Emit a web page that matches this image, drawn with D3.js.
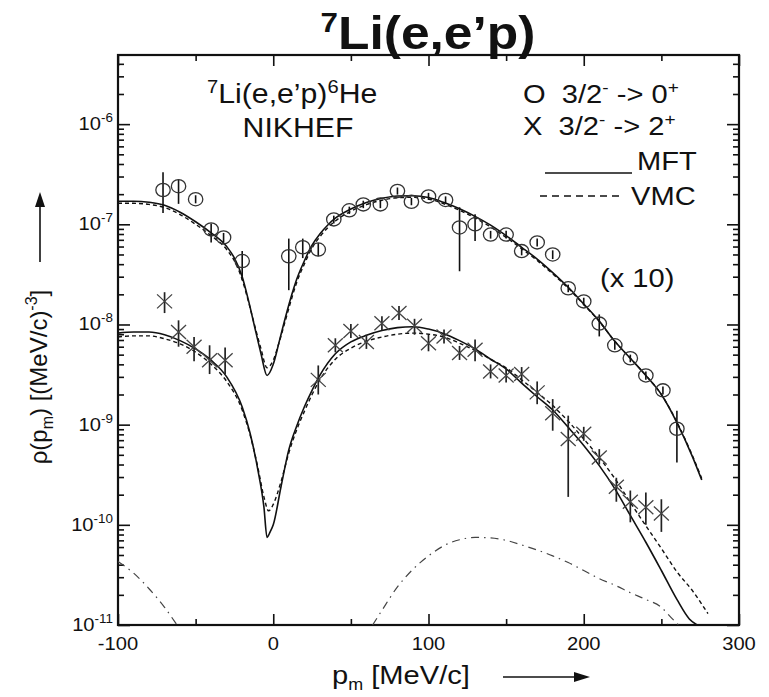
<!DOCTYPE html>
<html><head><meta charset="utf-8">
<script src="https://cdn.jsdelivr.net/npm/d3@7"></script>
<style>
body{margin:0;background:#fff}
svg{display:block;font-family:"Liberation Sans",Arial,Helvetica,sans-serif}
text{white-space:pre}
</style></head><body>
<svg id="c" width="769" height="697"></svg>
<script>
// ---- data ----
const xMajor=[-100,0,100,200,300];
const xMinor=[-50,50,150,250];
const xLabels=["-100","0","100","200","300"];
const yMajor=[1e-11,1e-10,1e-9,1e-8,1e-7,1e-6];
const yExp=["-11","-10","-9","-8","-7","-6"];

// O : 3/2- -> 0+ (x10)
const circX=[-71,-61,-50,-40,-32,-20,10,19,29,39,49,58,69,80,89,100,111,120,130,140,150,160,170,180,190,200,210,220,230,240,251,260];
const circY=[2.2e-7,2.4e-7,1.78e-7,8.9e-8,7.4e-8,4.3e-8,4.8e-8,5.9e-8,5.6e-8,1.12e-7,1.38e-7,1.58e-7,1.58e-7,2.15e-7,1.68e-7,1.9e-7,1.75e-7,9.3e-8,1.0e-7,7.9e-8,7.9e-8,5.4e-8,6.6e-8,5.0e-8,2.3e-8,1.7e-8,1.02e-8,6.2e-9,4.6e-9,3.1e-9,2.2e-9,9.1e-10];
const circHi=[3.3e-7,2.8e-7,1.95e-7,1.02e-7,8.2e-8,5.4e-8,7.2e-8,7.2e-8,6.5e-8,1.22e-7,1.5e-7,1.72e-7,1.72e-7,2.33e-7,1.83e-7,2.06e-7,1.9e-7,1.48e-7,1.26e-7,8.6e-8,8.6e-8,5.9e-8,7.2e-8,5.5e-8,2.5e-8,1.85e-8,1.26e-8,6.8e-9,5.0e-9,3.4e-9,2.4e-9,1.38e-9];
const circLo=[1.3e-7,1.6e-7,1.62e-7,6.6e-8,6.6e-8,2.8e-8,2.2e-8,4.6e-8,4.8e-8,1.02e-7,1.27e-7,1.45e-7,1.45e-7,1.98e-7,1.55e-7,1.75e-7,1.6e-7,3.4e-8,6.8e-8,7.2e-8,7.2e-8,4.9e-8,6.0e-8,4.5e-8,2.1e-8,1.55e-8,7.6e-9,5.6e-9,4.2e-9,2.8e-9,2.0e-9,4.2e-10];

// X : 3/2- -> 2+
const astX=[-70,-61,-51,-41,-31,29,40,50,60,70,81,91,100,110,120,130,140,150,160,170,180,190,200,210,221,230,240,250];
const astY=[1.7e-8,8.4e-9,6.0e-9,4.4e-9,4.4e-9,2.8e-9,6.2e-9,8.6e-9,6.7e-9,1.03e-8,1.3e-8,9.7e-9,6.5e-9,7.6e-9,5.2e-9,5.6e-9,3.4e-9,3.1e-9,3.2e-9,2.1e-9,1.3e-9,7.2e-10,8.1e-10,4.7e-10,2.4e-10,1.7e-10,1.5e-10,1.3e-10];
const astHi=[2.1e-8,1.1e-8,7.5e-9,6.2e-9,5.9e-9,3.9e-9,7.0e-9,9.6e-9,7.4e-9,1.15e-8,1.45e-8,1.1e-8,7.9e-9,8.4e-9,5.8e-9,7.1e-9,3.8e-9,3.5e-9,3.7e-9,2.7e-9,1.8e-9,1.23e-9,9.0e-10,5.7e-10,2.95e-10,2.2e-10,2.1e-10,1.8e-10];
const astLo=[1.3e-8,6.0e-9,4.3e-9,3.2e-9,3.2e-9,2.0e-9,5.4e-9,7.6e-9,6.0e-9,9.2e-9,1.15e-8,7.9e-9,5.4e-9,6.8e-9,4.6e-9,4.3e-9,3.0e-9,2.7e-9,2.6e-9,1.6e-9,8.7e-10,1.9e-10,7.2e-10,4.1e-10,1.7e-10,1.06e-10,1.0e-10,8.5e-11];

// theory curves, upper (x10)
const upX=[-100,-90,-80,-70,-60,-50,-40,-30,-25,-20,-16,-12,-8,-4,0,4,8,12,15,20,25,30,35,40,50,60,70,80,90,100,110,120,130,140,150,160,170,180,190,200,210,220,230,240,250,260,270,276];
const upMFT=[1.7e-7,1.7e-7,1.66e-7,1.55e-7,1.32e-7,1.06e-7,8.2e-8,6.0e-8,4.6e-8,3.0e-8,1.75e-8,9.5e-9,5.2e-9,3.1e-9,4.0e-9,6.9e-9,1.2e-8,2.0e-8,2.8e-8,4.3e-8,6.2e-8,8.0e-8,9.8e-8,1.15e-7,1.42e-7,1.65e-7,1.82e-7,1.92e-7,1.93e-7,1.85e-7,1.65e-7,1.43e-7,1.2e-7,9.8e-8,7.7e-8,5.9e-8,4.5e-8,3.3e-8,2.35e-8,1.6e-8,1.08e-8,6.8e-9,4.6e-9,3.1e-9,2.0e-9,1.05e-9,4.8e-10,2.8e-10];
const upVMC=[1.62e-7,1.62e-7,1.58e-7,1.47e-7,1.25e-7,1.0e-7,7.7e-8,5.6e-8,4.3e-8,2.8e-8,1.7e-8,9.8e-9,5.8e-9,3.7e-9,4.4e-9,6.8e-9,1.12e-8,1.85e-8,2.6e-8,4.0e-8,5.8e-8,7.5e-8,9.2e-8,1.08e-7,1.35e-7,1.57e-7,1.74e-7,1.84e-7,1.86e-7,1.79e-7,1.6e-7,1.38e-7,1.16e-7,9.4e-8,7.4e-8,5.7e-8,4.35e-8,3.2e-8,2.3e-8,1.58e-8,1.07e-8,6.8e-9,4.6e-9,3.1e-9,2.0e-9,1.06e-9,4.9e-10,2.9e-10];

// theory curves, lower
const lowMftX=[-100,-90,-80,-70,-60,-50,-40,-30,-20,-15,-10,-6,-4,-2,0,5,10,15,20,25,30,40,50,60,70,80,90,100,110,120,130,140,150,160,170,180,190,200,210,220,230,240,250,260,268,273];
const lowMft=[8.2e-9,8.4e-9,8.4e-9,7.9e-9,6.9e-9,5.7e-9,4.4e-9,3.0e-9,1.5e-9,8.3e-10,3.6e-10,1.5e-10,7.5e-11,8.5e-11,1.0e-10,2.4e-10,5.6e-10,9.6e-10,1.5e-9,2.2e-9,3.1e-9,5.1e-9,6.7e-9,7.8e-9,8.7e-9,9.3e-9,9.5e-9,9.0e-9,8.1e-9,6.9e-9,5.7e-9,4.5e-9,3.6e-9,2.6e-9,1.9e-9,1.4e-9,9.4e-10,6.2e-10,3.9e-10,2.3e-10,1.24e-10,6.7e-11,3.5e-11,1.8e-11,1.15e-11,1.0e-11];
const lowVmcX=[-100,-90,-80,-70,-60,-50,-40,-30,-20,-15,-10,-6,-3,0,5,10,15,20,25,30,40,50,60,70,80,90,100,110,120,130,140,150,160,170,180,190,200,210,220,230,240,250,260,270,280];
const lowVmc=[7.5e-9,7.7e-9,7.7e-9,7.2e-9,6.4e-9,5.3e-9,4.0e-9,2.7e-9,1.4e-9,8e-10,3.8e-10,1.9e-10,1.38e-10,1.6e-10,2.7e-10,5.2e-10,8.8e-10,1.35e-9,2.0e-9,2.8e-9,4.5e-9,5.8e-9,6.8e-9,7.5e-9,8.0e-9,8.2e-9,8.0e-9,7.5e-9,6.5e-9,5.5e-9,4.5e-9,3.7e-9,2.8e-9,2.1e-9,1.55e-9,1.08e-9,7.2e-10,4.7e-10,2.9e-10,1.67e-10,9.8e-11,5.8e-11,3.4e-11,2.2e-11,1.3e-11];

// dash-dot curve
const ddLeftX=[-100,-90,-80,-70,-62];
const ddLeft=[4.3e-11,3.3e-11,2.3e-11,1.5e-11,1.0e-11];
const ddRightX=[64,70,80,90,100,110,120,130,140,150,160,170,180,190,200,210,220,230,240,250,256,261];
const ddRight=[1.0e-11,1.4e-11,2.4e-11,3.6e-11,4.9e-11,6.2e-11,7.1e-11,7.5e-11,7.4e-11,7.0e-11,6.3e-11,5.6e-11,4.9e-11,4.2e-11,3.5e-11,2.9e-11,2.5e-11,2.1e-11,1.8e-11,1.5e-11,1.2e-11,1.0e-11];

// ---- layout ----
const L=118,R=739,T=55,B=625;
const SX=1.12; // horizontal stretch of the lettering
const x=d3.scaleLinear().domain([-100,300]).range([L,R]);
const y=d3.scaleLog().domain([1e-11,4.9e-6]).range([B,T]);
const svg=d3.select('#c');
const ink='#111';

svg.append('defs').append('clipPath').attr('id','clip')
  .append('rect').attr('x',L).attr('y',T).attr('width',R-L).attr('height',B-T);

const yMinor=[];
yMajor.forEach(d=>{for(let m=2;m<=9;m++){const v=d*m; if(v<y.domain()[1]) yMinor.push(v);}});

function clean(g){g.select('.domain').remove();g.selectAll('.tick text').remove();g.selectAll('.tick line').attr('stroke',ink).attr('stroke-width',1.6);}
svg.append('g').attr('transform',`translate(0,${B})`).call(d3.axisBottom(x).tickValues(xMajor).tickSize(-11)).call(clean);
svg.append('g').attr('transform',`translate(0,${B})`).call(d3.axisBottom(x).tickValues(xMinor).tickSize(-6)).call(clean);
svg.append('g').attr('transform',`translate(0,${T})`).call(d3.axisTop(x).tickValues(xMajor).tickSize(-11)).call(clean);
svg.append('g').attr('transform',`translate(0,${T})`).call(d3.axisTop(x).tickValues(xMinor).tickSize(-6)).call(clean);
svg.append('g').attr('transform',`translate(${L},0)`).call(d3.axisLeft(y).tickValues(yMajor).tickSize(-12)).call(clean);
svg.append('g').attr('transform',`translate(${L},0)`).call(d3.axisLeft(y).tickValues(yMinor).tickSize(-6)).call(clean);
svg.append('g').attr('transform',`translate(${R},0)`).call(d3.axisRight(y).tickValues(yMajor).tickSize(-12)).call(clean);
svg.append('g').attr('transform',`translate(${R},0)`).call(d3.axisRight(y).tickValues(yMinor).tickSize(-6)).call(clean);

svg.append('rect').attr('x',L).attr('y',T).attr('width',R-L).attr('height',B-T)
  .attr('fill','none').attr('stroke',ink).attr('stroke-width',2.2);

// stretched text helper
function stext(px,py,size,anchor){
  return svg.append('g').attr('transform',`translate(${px},${py}) scale(${SX},1)`)
    .append('text').attr('x',0).attr('y',0).attr('font-size',size).attr('fill',ink)
    .attr('text-anchor',anchor||'start');
}

// tick labels
xMajor.forEach((d,i)=>stext(x(d),B+25,18,'middle').text(xLabels[i]));
yMajor.forEach((d,i)=>{
  const t=stext(L-5,y(d)+6,18,'end');
  t.append('tspan').text('10');
  t.append('tspan').attr('font-size',12).attr('dy',-8).text(yExp[i]);
});

// curves
const plot=svg.append('g').attr('clip-path','url(#clip)');
const line=d3.line().x(d=>x(d[0])).y(d=>y(d[1])).curve(d3.curveMonotoneX);
const zip=(a,b)=>a.map((v,i)=>[v,b[i]]);
function curve(xs,ys,dash,w,col){plot.append('path').attr('d',line(zip(xs,ys))).attr('fill','none')
  .attr('stroke',col||ink).attr('stroke-width',w).attr('stroke-dasharray',dash);}
curve(upX,upVMC,'4,3',1.4);
curve(upX,upMFT,null,1.6);
curve(lowVmcX,lowVmc,'4,3',1.4);
curve(lowMftX,lowMft,null,1.6);
curve(ddLeftX,ddLeft,'8,5,1.5,5',1.2,'#444');
curve(ddRightX,ddRight,'8,5,1.5,5',1.2,'#444');

// error bars and markers
const mk=svg.append('g').attr('clip-path','url(#clip)');
circX.forEach((v,i)=>{
  mk.append('line').attr('x1',x(v)).attr('x2',x(v)).attr('y1',y(circHi[i])).attr('y2',y(circLo[i]))
    .attr('stroke',ink).attr('stroke-width',1.6);
  mk.append('ellipse').attr('cx',x(v)).attr('cy',y(circY[i])).attr('rx',7.2).attr('ry',6.6)
    .attr('fill','none').attr('stroke','#333').attr('stroke-width',1.3);
});
astX.forEach((v,i)=>{
  const cx=x(v),cy=y(astY[i]),s=7;
  mk.append('line').attr('x1',cx).attr('x2',cx).attr('y1',Math.min(y(astHi[i]),cy-s)).attr('y2',Math.max(y(astLo[i]),cy+s))
    .attr('stroke','#222').attr('stroke-width',1.7);
  mk.append('path').attr('d',`M${cx-s-0.5},${cy-s}L${cx+s+0.5},${cy+s}M${cx-s-0.5},${cy+s}L${cx+s+0.5},${cy-s}`)
    .attr('stroke','#444').attr('stroke-width',1.3);
});

// title
const tt=stext(428,49,46,'middle').attr('font-weight','bold');
tt.append('tspan').attr('font-size',28).attr('dy',-17).text('7');
tt.append('tspan').attr('dy',17).text('Li(e,e’p)');

// in-plot text
const t1=stext(207,103,27);
t1.append('tspan').attr('font-size',18).attr('dy',-10).text('7');
t1.append('tspan').attr('dy',10).text('Li(e,e’p)');
t1.append('tspan').attr('font-size',18).attr('dy',-10).text('6');
t1.append('tspan').attr('dy',10).text('He');
stext(298,137,27,'middle').text('NIKHEF');

function trans(yb,sym,fin){
  const t=stext(523,yb,26);
  t.append('tspan').text(sym+'  3/2');
  t.append('tspan').attr('font-size',17).attr('dy',-10).text('-');
  t.append('tspan').attr('dy',10).text(' -> '+fin);
  t.append('tspan').attr('font-size',17).attr('dy',-10).text('+');
}
trans(103,'O','0');
trans(135,'X','2');
svg.append('line').attr('x1',545).attr('x2',632).attr('y1',173).attr('y2',173).attr('stroke',ink).attr('stroke-width',1.6);
stext(637,170,26).text('MFT');
svg.append('line').attr('x1',540).attr('x2',624).attr('y1',196).attr('y2',196).attr('stroke',ink).attr('stroke-width',1.6).attr('stroke-dasharray','7,5');
stext(631,205,26).text('VMC');
stext(600,287,26).text('(x 10)');

// axis titles
const yt=svg.append('text').attr('transform','translate(47,377) rotate(-90)').attr('text-anchor','middle').attr('fill',ink).attr('font-size',24);
yt.append('tspan').text('ρ(p');
yt.append('tspan').attr('font-size',16).attr('dy',6).text('m');
yt.append('tspan').attr('dy',-6).text(') [(MeV/c)');
yt.append('tspan').attr('font-size',16).attr('dy',-10).text('-3');
yt.append('tspan').attr('dy',10).text(']');
svg.append('line').attr('x1',40).attr('x2',40).attr('y1',262).attr('y2',205).attr('stroke',ink).attr('stroke-width',1.6);
svg.append('path').attr('d','M35,207L45,207L40,192Z').attr('fill',ink);

const xt=stext(401,684,26,'middle');
xt.append('tspan').text('p');
xt.append('tspan').attr('font-size',16).attr('dy',6).text('m');
xt.append('tspan').attr('dy',-6).text(' [MeV/c]');
svg.append('line').attr('x1',503).attr('x2',575).attr('y1',677).attr('y2',677).attr('stroke',ink).attr('stroke-width',1.6);
svg.append('path').attr('d','M574,672L574,682L590,677Z').attr('fill',ink);
</script>
</body></html>
